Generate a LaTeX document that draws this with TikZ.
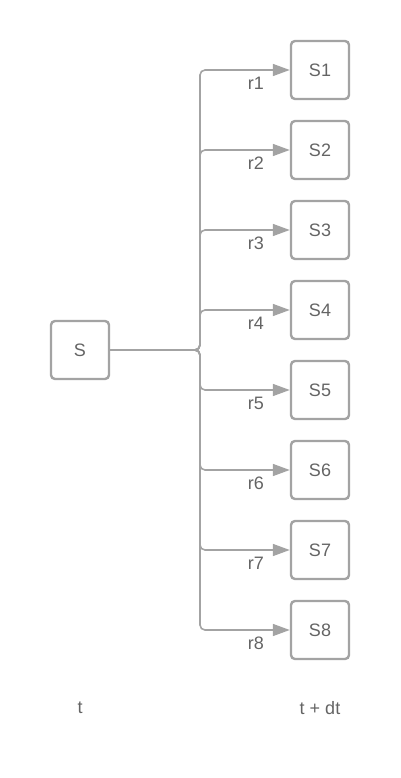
\documentclass[tikz,border=0pt]{standalone}
\usepackage{fontspec}
\setmainfont{Liberation Sans}
\usetikzlibrary{arrows.meta}
\definecolor{lineg}{HTML}{A3A3A3}
\definecolor{textg}{HTML}{646464}
\begin{document}
\begin{tikzpicture}[x=1pt,y=-1pt,
  box/.style={draw=lineg,line width=2.4pt,rounded corners=4pt,minimum width=58pt,minimum height=58pt,inner sep=0pt,text=textg,font=\fontsize{18}{21}\selectfont},
  conn/.style={draw=lineg,line width=1.6pt,rounded corners=5pt,-{Triangle[length=17pt,width=12pt]}},
  lbl/.style={text=textg,font=\fontsize{18}{21}\selectfont,inner sep=0pt},
  ]
\useasboundingbox (0,0) rectangle (400,778);
\node[box] (S) at (80,350) {S};
\coordinate (J) at (200,350);
\foreach \i in {1,...,8}{
  \node[box] (S\i) at (320,{70+80*(\i-1)}) {S\i};
  \draw[conn] (S.east) -- (J) |- (S\i.west);
  \node[lbl] (r\i) at ([xshift=-34pt,yshift=-13pt]S\i.west) {r\i};
}
\node[lbl] (t) at (80,708) {t};
\node[lbl] (tdt) at (320,708) {t + dt};
\end{tikzpicture}
\end{document}
